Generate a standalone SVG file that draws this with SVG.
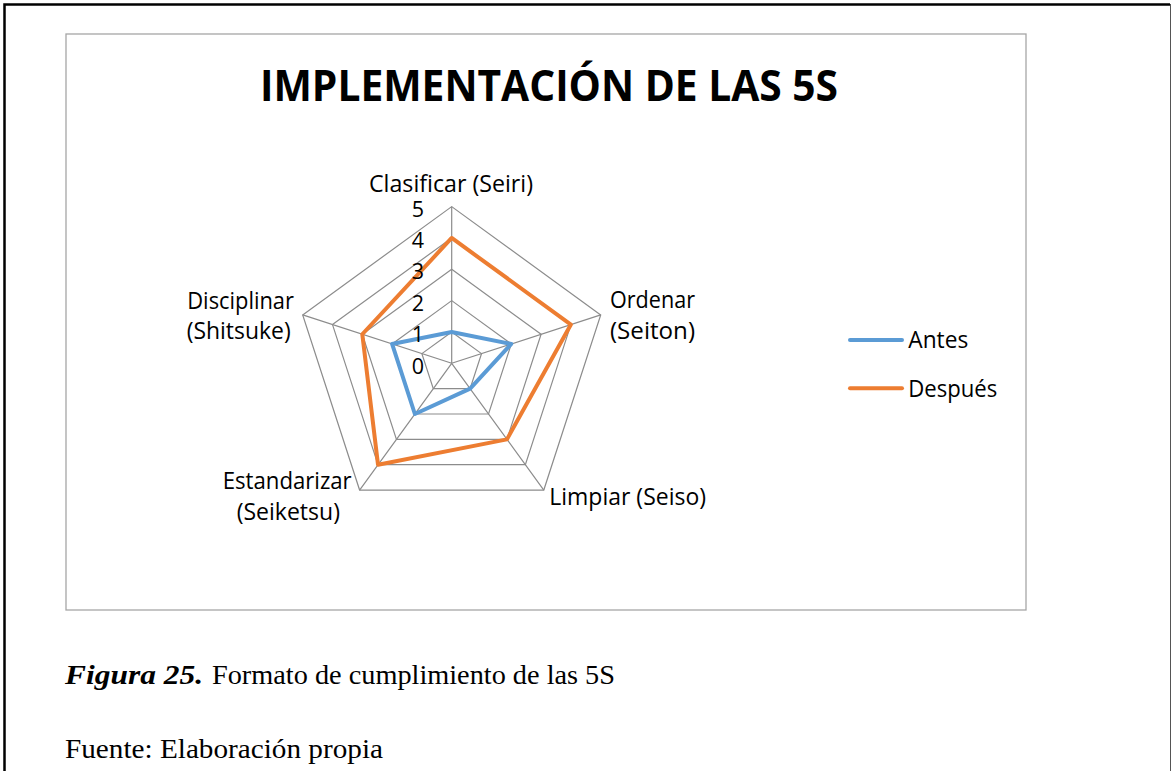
<svg xmlns="http://www.w3.org/2000/svg" width="1172" height="771" viewBox="0 0 1172 771">
<style>
.lbl{font-family:"Open Sans","Liberation Sans",sans-serif;font-size:24px;fill:#000}
.num{font-family:"Open Sans","Liberation Sans",sans-serif;font-size:21.5px;fill:#000;text-anchor:end}
.grid{fill:none;stroke:#8c8c8c;stroke-width:1.2}
.ser{fill:none;stroke-width:4;stroke-linejoin:round;stroke-linecap:round}
.antes{stroke:#5B9BD5}
.desp{stroke:#ED7D31}
.cap{font-family:"Liberation Serif","Times New Roman",serif;font-size:26.5px;fill:#000}
</style>
<rect width="1172" height="771" fill="#fff"/>
<path d="M4.5,771 V4.5 H1170" fill="none" stroke="#000" stroke-width="2.5"/>
<line x1="1170.5" y1="4" x2="1170.5" y2="771" stroke="#555" stroke-width="1"/>
<rect id="chart-area" x="66" y="34" width="960" height="576" fill="#fff" stroke="#a6a6a6" stroke-width="1.3"/>
<text id="title" x="260" y="101" textLength="578" lengthAdjust="spacingAndGlyphs" style="font-family:'Open Sans','Liberation Sans',sans-serif;font-weight:bold;font-size:43px">IMPLEMENTACIÓN DE LAS 5S</text>
<g id="grid">
<polygon class="grid" points="451.7,331.97 481.5,353.62 470.12,388.65 433.28,388.65 421.9,353.62"/>
<polygon class="grid" points="451.7,300.63 511.3,343.93 488.53,414 414.87,414 392.1,343.93"/>
<polygon class="grid" points="451.7,269.3 541.1,334.25 506.95,439.35 396.45,439.35 362.3,334.25"/>
<polygon class="grid" points="451.7,237.97 570.9,324.57 525.37,464.7 378.03,464.7 332.5,324.57"/>
<polygon class="grid" points="451.7,206.63 600.7,314.89 543.79,490.05 359.61,490.05 302.7,314.89"/>
<path class="grid" d="M451.7,363.3 L451.7,206.63 M451.7,363.3 L600.7,314.89 M451.7,363.3 L543.79,490.05 M451.7,363.3 L359.61,490.05 M451.7,363.3 L302.7,314.89"/>
</g>
<g id="connectors">
<polygon id="serie-antes" class="ser antes" points="451.7,331.97 511.3,343.93 470.12,388.65 414.87,414 392.1,343.93"/>
<polygon id="serie-despues" class="ser desp" points="451.7,237.97 570.9,324.57 506.95,439.35 378.03,464.7 362.3,334.25"/>
</g>
<g id="axis-values">
<text class="num" x="424" y="373.5">0</text>
<text class="num" x="424" y="342">1</text>
<text class="num" x="424" y="310.6">2</text>
<text class="num" x="424" y="279.3">3</text>
<text class="num" x="424" y="248">4</text>
<text class="num" x="424" y="216.7">5</text>
</g>
<g id="node-clasificar"><text class="lbl" x="451" y="192" text-anchor="middle" textLength="164" lengthAdjust="spacingAndGlyphs">Clasificar (Seiri)</text></g>
<g id="node-ordenar">
<text class="lbl" x="652.5" y="308" text-anchor="middle" textLength="85" lengthAdjust="spacingAndGlyphs">Ordenar</text>
<text class="lbl" x="652.5" y="339" text-anchor="middle" textLength="85" lengthAdjust="spacingAndGlyphs">(Seiton)</text>
</g>
<g id="node-limpiar"><text class="lbl" x="549.3" y="505" textLength="156.7" lengthAdjust="spacingAndGlyphs">Limpiar (Seiso)</text></g>
<g id="node-estandarizar">
<text class="lbl" x="287.2" y="489" text-anchor="middle" textLength="129" lengthAdjust="spacingAndGlyphs">Estandarizar</text>
<text class="lbl" x="288.3" y="520" text-anchor="middle" textLength="103.3" lengthAdjust="spacingAndGlyphs">(Seiketsu)</text>
</g>
<g id="node-disciplinar">
<text class="lbl" x="240.6" y="309" text-anchor="middle" textLength="106.7" lengthAdjust="spacingAndGlyphs">Disciplinar</text>
<text class="lbl" x="238.7" y="339" text-anchor="middle" textLength="104" lengthAdjust="spacingAndGlyphs">(Shitsuke)</text>
</g>
<g id="legend">
<line class="ser antes" x1="850" y1="340" x2="902" y2="340"/>
<text class="lbl" x="908.3" y="348.3" textLength="60" lengthAdjust="spacingAndGlyphs">Antes</text>
<line class="ser desp" x1="850" y1="388.3" x2="902" y2="388.3"/>
<text class="lbl" x="908.3" y="396.5" textLength="89" lengthAdjust="spacingAndGlyphs">Después</text>
</g>
<g id="caption">
<text class="cap" x="65" y="684" textLength="138" lengthAdjust="spacingAndGlyphs" style="font-weight:bold;font-style:italic">Figura 25.</text>
<text class="cap" x="212" y="684" textLength="403" lengthAdjust="spacingAndGlyphs">Formato de cumplimiento de las 5S</text>
<text class="cap" x="65" y="757.5" textLength="318" lengthAdjust="spacingAndGlyphs">Fuente: Elaboración propia</text>
</g>
</svg>
